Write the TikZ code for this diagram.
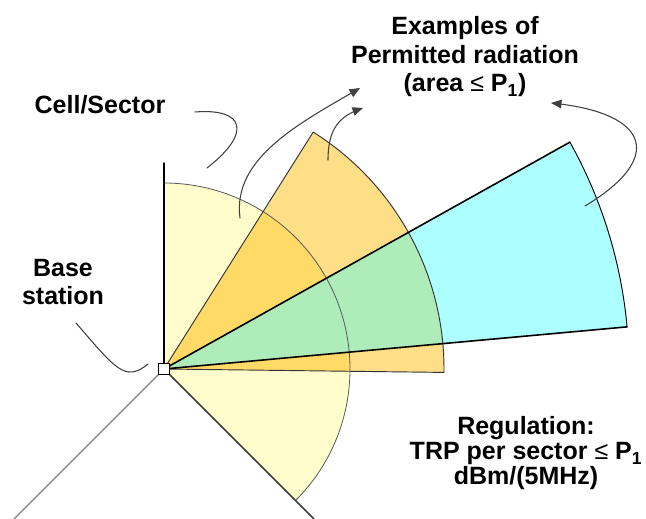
\documentclass[tikz,border=0pt]{standalone}
\usepackage{fontspec}
\setmainfont{Liberation Sans}
\usepackage{color}
\usetikzlibrary{arrows}
\definecolor{sectyellow}{HTML}{FFFDCC}
\definecolor{sectorange}{HTML}{FFDE88}
\definecolor{sectdeep}{HTML}{FFDA66}
\definecolor{sectcyan}{HTML}{ADFFFF}
\definecolor{sectgreen}{HTML}{AEEDBA}
\begin{document}
\begin{tikzpicture}[line cap=round,line join=round,>={triangle 45[scale=1.6]},x=0.75pt,y=0.75pt,
    lbl/.style={font=\bfseries\fontsize{18.75}{21.4}\selectfont,align=center,inner sep=0pt},
    pointer/.style={color=black!75,line width=0.8pt}]
      \useasboundingbox (0,0) rectangle (646,518);
      \coordinate (bs) at (164,149);
      \fill[sectyellow] (bs) -- ++(-45:186) arc[start angle=-45,end angle=90,radius=186] -- cycle;
      \fill[sectorange] (bs) -- ++(-0.7:280) arc[start angle=-0.7,end angle=57.8,radius=280] -- cycle;
      \begin{scope}
        \clip (bs) -- ++(-0.7:280) arc[start angle=-0.7,end angle=57.8,radius=280] -- cycle;
        \fill[sectdeep] (bs) -- ++(-45:186) arc[start angle=-45,end angle=90,radius=186] -- cycle;
      \end{scope}
      \fill[sectcyan] (bs) -- ++(5.2:465) arc[start angle=5.2,end angle=29.2,radius=465] -- cycle;
      \begin{scope}
        \clip (bs) -- ++(-0.7:280) arc[start angle=-0.7,end angle=57.8,radius=280] -- cycle;
        \fill[sectgreen] (bs) -- ++(5.2:465) arc[start angle=5.2,end angle=29.2,radius=465] -- cycle;
      \end{scope}
      \draw[color=black!65,line width=0.6pt] (bs) ++(-45:186) arc[start angle=-45,end angle=90,radius=186];
      \draw[color=black!80,line width=0.7pt] (bs) -- ++(-0.7:280) arc[start angle=-0.7,end angle=57.8,radius=280] -- cycle;
      \draw[color=black,line width=0.7pt] (bs) ++(5.2:465) arc[start angle=5.2,end angle=29.2,radius=465];
      \foreach \a in {5.2,29.2}
      \draw[color=black,line width=1.2pt] (bs) -- ++(\a:465);
      \draw[color=black,line width=1.1pt] (bs) -- ++(90:206);
      \draw[color=black!75,line width=1.1pt] (bs) -- ++(-45:212);
      \draw[color=black!50,line width=0.8pt] (bs) -- ++(-135:212);
      \node[draw,fill=white,line width=0.8pt,inner sep=0pt,minimum size=8.5pt] (bsq) at (bs) {};
      \node[lbl] (cell) at (100,413) {Cell/Sector};
      \node[lbl] (examples) at (465,461) {Examples of\\Permitted radiation\\(area {\mdseries ≤} P\textsubscript{1})};
      \node[lbl,font=\bfseries\fontsize{18.75}{21}\selectfont] (base) at (63,236) {Base\\station};
      \node[lbl,font=\bfseries\fontsize{18.75}{18.75}\selectfont] (reg) at (526,64.5) {Regulation:\\TRP per sector {\mdseries ≤} P\textsubscript{1}\\dBm/(5MHz)};
      \coordinate (cellA) at (195,406);
      \coordinate (cellB) at (207,350);
      \coordinate (baseA) at (76,195);
      \coordinate (baseB) at (148,154);
      \coordinate (yelPt) at (240,300);
      \coordinate (orgPt) at (328,358);
      \coordinate (cyaPt) at (585,312);
      \coordinate (tipA) at (360,430);
      \coordinate (tipB) at (363,410);
      \coordinate (tipC) at (551,415);
      \draw[pointer] (cellA) .. controls (245,410) and (252,385) .. (cellB);
      \draw[pointer] (baseA) .. controls (115,150) and (125,135) .. (baseB);
      \draw[pointer,->] (yelPt) .. controls (232,360) and (300,395) .. (tipA);
      \draw[pointer,->] (orgPt) .. controls (328,390) and (340,402) .. (tipB);
      \draw[pointer,->] (cyaPt) .. controls (665,360) and (650,405) .. (tipC);
\end{tikzpicture}
\end{document}
